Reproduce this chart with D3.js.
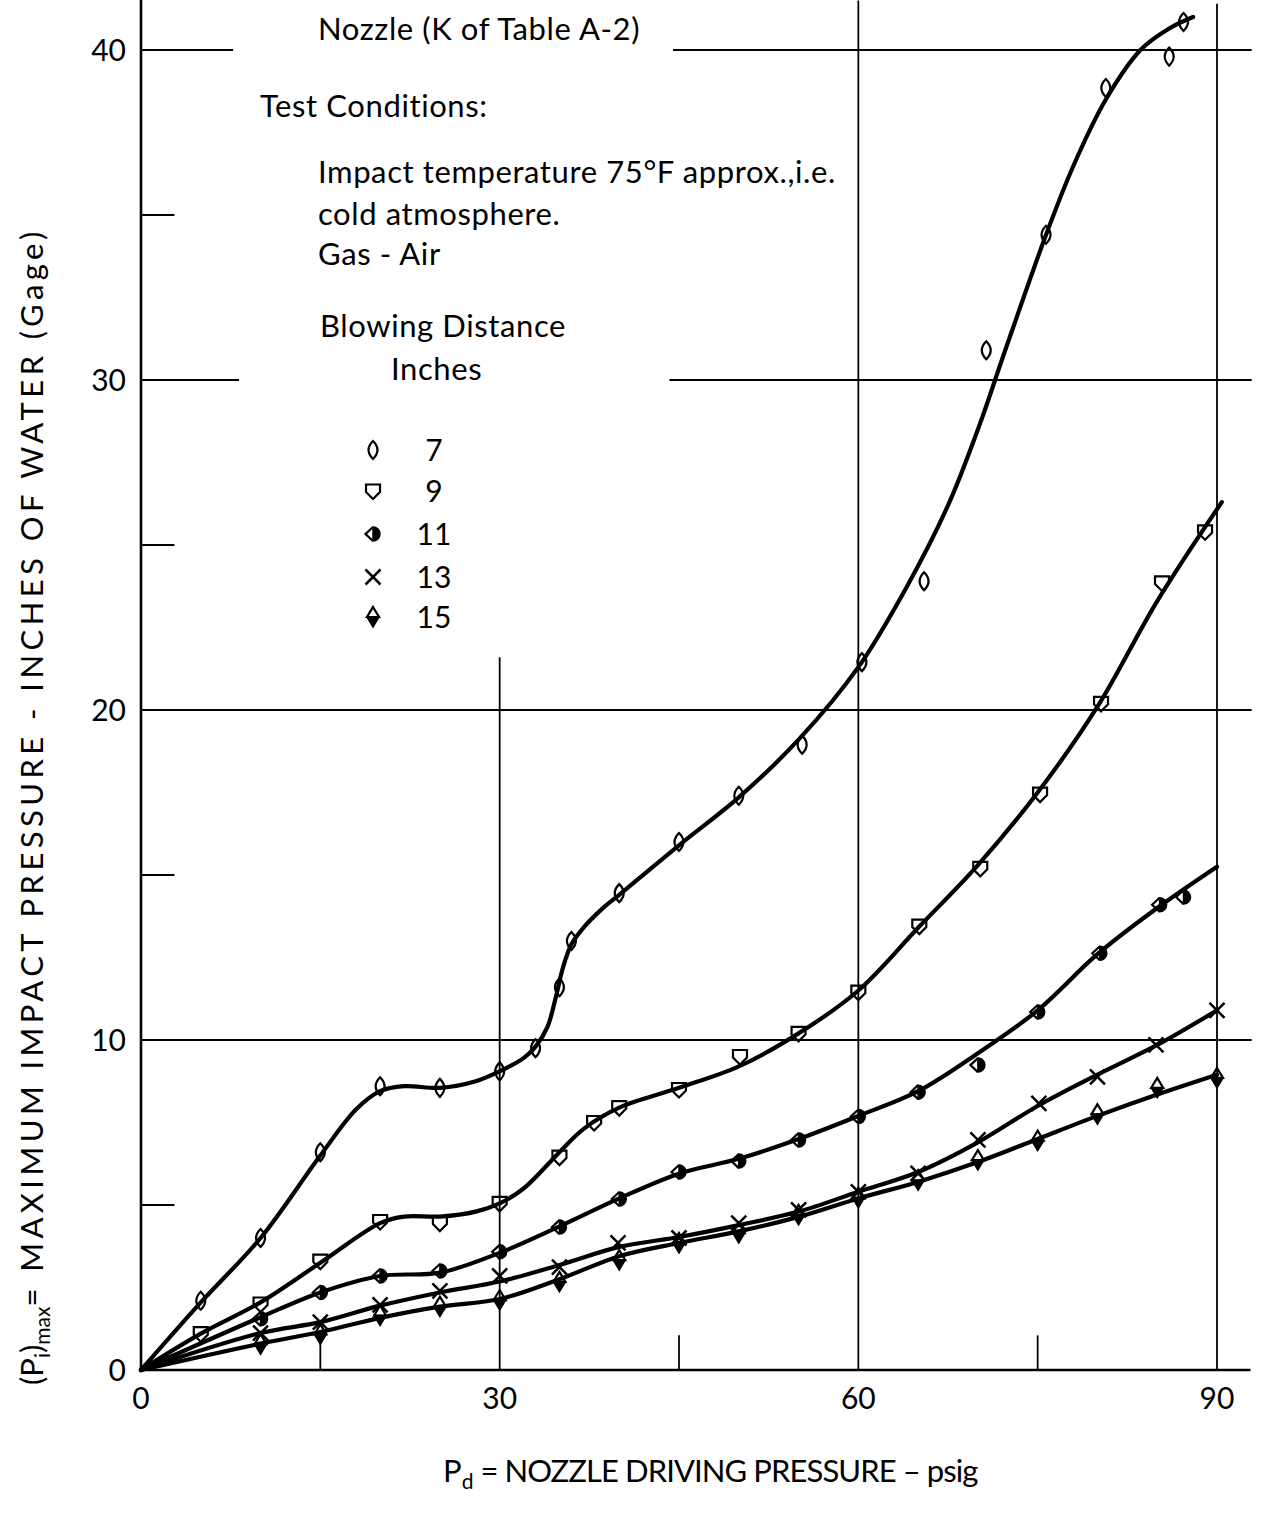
<!DOCTYPE html>
<html><head><meta charset="utf-8">
<script src="https://cdn.jsdelivr.net/npm/d3@7"></script>
<style>html,body{margin:0;background:#fff}</style>
</head><body><svg id="chart" width="1261" height="1513"></svg>
<script>
// Axis ticks
const xTicks = [0, 30, 60, 90];
const yTicks = [0, 10, 20, 30, 40];

// Blowing distances (inches)
const distances = ["7", "9", "11", "13", "15"];

// Measured points [driving pressure psig, impact pressure in. water]
const obs7  = [[5,2.1],[10,4.0],[15,6.6],[20,8.6],[25,8.55],[30,9.05],[33,9.75],[35,11.6],[36,13.0],[40,14.45],[45,16.0],[50,17.4],[55.3,18.95],[60.3,21.45],[65.5,23.9],[70.7,30.9],[75.7,34.4],[80.7,38.85],[86,39.8],[87.2,40.85]];
const obs9  = [[5,1.1],[10,2.0],[15,3.3],[20,4.5],[25,4.45],[30,5.05],[35,6.45],[37.9,7.5],[40,7.95],[45,8.5],[50.1,9.5],[55,10.2],[60,11.45],[65.1,13.45],[70.2,15.2],[75.2,17.45],[80.3,20.2],[85.4,23.85],[89,25.4]];
const obs11 = [[10,1.55],[15,2.35],[20,2.85],[25,3.0],[30,3.58],[35,4.33],[40,5.18],[45,6.0],[50,6.33],[55,6.97],[60,7.68],[65,8.42],[70,9.24],[75,10.85],[80.2,12.63],[85.2,14.1],[87.2,14.33]];
const obs13 = [[10,1.12],[15,1.45],[20,1.97],[25,2.4],[30,2.85],[35,3.12],[39.9,3.85],[45,4.0],[50,4.45],[55,4.85],[60,5.4],[65,5.96],[70,6.97],[75.1,8.08],[80,8.88],[84.9,9.85],[90,10.9]];
const obs15 = [[10,0.78],[15,1.08],[20,1.65],[25,1.92],[30,2.12],[35,2.67],[40,3.33],[45,3.85],[50,4.15],[55,4.7],[60,5.22],[65,5.75],[70,6.36],[75,6.95],[80,7.75],[85,8.55],[90,8.85]];

// Faired curves through the data
const fit7  = [[0,0],[5,2.05],[10,4.0],[15,6.5],[18,7.9],[20,8.45],[22,8.6],[25,8.55],[28,8.75],[30,9.05],[32,9.45],[33,9.8],[34,10.4],[34.7,11.3],[35.3,12.2],[36,12.9],[37,13.4],[38.5,13.95],[40,14.4],[45,15.9],[50,17.35],[55,19.1],[60,21.3],[64,23.7],[67.5,26.2],[70.2,28.7],[72,30.6],[75.7,34.4],[78,36.5],[80.7,38.5],[83.6,40],[86,40.65],[88,41.0]];
const fit9  = [[0,0],[5,1.1],[10,2.05],[15,3.25],[20,4.45],[22,4.65],[25,4.65],[28,4.8],[30,5.05],[32,5.5],[35,6.6],[37,7.3],[40,7.95],[45,8.55],[50,9.2],[55,10.2],[60,11.5],[65,13.4],[70,15.3],[75,17.5],[80,20.1],[85,23.3],[90.4,26.3]];
const fit11 = [[0,0],[10,1.6],[15,2.35],[20,2.85],[25,2.95],[30,3.55],[35,4.35],[40,5.2],[45,5.95],[50,6.4],[55,7.0],[60,7.7],[65,8.45],[70,9.6],[75,10.9],[80,12.6],[85,14.0],[90,15.25]];
const fit13 = [[0,0],[10,1.12],[15,1.45],[20,1.95],[25,2.35],[30,2.68],[35,3.18],[40,3.73],[45,4.03],[50,4.39],[55,4.8],[60,5.4],[65,6.0],[70,6.9],[75,8.0],[80,8.95],[85,9.85],[90,10.9]];
const fit15 = [[0,0],[10,0.8],[15,1.15],[20,1.58],[25,1.92],[30,2.15],[35,2.75],[40,3.45],[45,3.85],[50,4.2],[55,4.64],[60,5.2],[65,5.7],[70,6.3],[75,7.0],[80,7.7],[85,8.35],[90,8.95]];

const FONT = "Lato, 'Noto Sans', sans-serif";
const svg = d3.select("#chart");
const x = d3.scaleLinear().domain([0, 90]).range([141, 1217]);
const y = d3.scaleLinear().domain([0, 40]).range([1370, 50]);

const grid = svg.append("g").attr("stroke", "#000").attr("fill", "none");
function hseg(v, a, b, w) {
  grid.append("line").attr("x1", x(a)).attr("x2", x(b)).attr("y1", y(v)).attr("y2", y(v)).attr("stroke-width", w);
}
function vseg(v, a, b, w) {
  grid.append("line").attr("x1", x(v)).attr("x2", x(v)).attr("y1", y(a)).attr("y2", y(b)).attr("stroke-width", w);
}
// horizontal rules
hseg(10, 0, 92.9, 1.8);
hseg(20, 0, 92.9, 1.8);
hseg(30, 0, 8.2, 1.8); hseg(30, 44.2, 92.9, 1.8);
hseg(40, 0, 7.7, 1.8); hseg(40, 44.5, 92.9, 1.8);
[5, 15, 25, 35].forEach(v => hseg(v, 0, 2.8, 1.8));
// vertical rules
vseg(30, 0, 21.6, 1.8);
vseg(60, 0, 41.5, 1.8);
vseg(90, 0, 41.4, 1.8);
[15, 45, 75].forEach(v => vseg(v, 0, 1.05, 1.8));
// axes
vseg(0, 0, 41.65, 2.6);
hseg(0, 0, 92.8, 2.6);

// tick labels
svg.append("g").selectAll("text").data(xTicks).join("text")
  .attr("x", d => x(d)).attr("y", 1409).attr("text-anchor", "middle")
  .attr("font-family", FONT).attr("font-size", 30).text(d => d);
svg.append("g").selectAll("text").data(yTicks).join("text")
  .attr("x", 126).attr("y", d => y(d) + 11).attr("text-anchor", "end")
  .attr("font-family", FONT).attr("font-size", 30).text(d => d);

// marker shapes
const shapes = {
  "7":  g => g.append("path").attr("d", "M0,-9 Q9,0 0,9 Q-9,0 0,-9 Z").attr("fill", "none").attr("stroke", "#000").attr("stroke-width", 2.2),
  "9":  g => g.append("path").attr("d", "M-7,-6.5 H7 V1 L0,8 L-7,1 Z").attr("fill", "none").attr("stroke", "#000").attr("stroke-width", 2.2),
  "11": g => {
    g.append("path").attr("d", "M0,-7 L-7.5,0 L0,7").attr("fill", "none").attr("stroke", "#000").attr("stroke-width", 2.2);
    g.append("path").attr("d", "M0,-7 A7,7 0 0 1 0,7 Z").attr("fill", "#000").attr("stroke", "#000").attr("stroke-width", 1.5);
  },
  "13": g => g.append("path").attr("d", "M-7.5,-7.5 L7.5,7.5 M7.5,-7.5 L-7.5,7.5").attr("fill", "none").attr("stroke", "#000").attr("stroke-width", 2.5),
  "15": g => {
    g.append("path").attr("d", "M0,-10 L6,0 L-6,0 Z").attr("fill", "none").attr("stroke", "#000").attr("stroke-width", 2.2);
    g.append("path").attr("d", "M-6,0 L6,0 L0,10 Z").attr("fill", "#000").attr("stroke", "#000").attr("stroke-width", 1.5);
  }
};

// curves
const line = d3.line().x(d => x(d[0])).y(d => y(d[1])).curve(d3.curveCatmullRom.alpha(0.5));
const fits = [fit7, fit9, fit11, fit13, fit15];
const obs = [obs7, obs9, obs11, obs13, obs15];
svg.append("g").selectAll("path").data(fits).join("path")
  .attr("d", line).attr("fill", "none").attr("stroke", "#000")
  .attr("stroke-width", 4.2).attr("stroke-linejoin", "round").attr("stroke-linecap", "round");

// data points
distances.forEach((dist, i) => {
  svg.append("g").selectAll("g").data(obs[i]).join("g")
    .attr("transform", d => `translate(${x(d[0])},${y(d[1])})`)
    .each(function () { shapes[dist](d3.select(this)); });
});

// annotations
const notes = [
  ["Nozzle (K of Table A-2)", 318, 40],
  ["Test Conditions:", 260, 117],
  ["Impact temperature 75°F approx.,i.e.", 318, 183],
  ["cold atmosphere.", 318, 225],
  ["Gas - Air", 318, 265],
  ["Blowing Distance", 320, 337],
  ["Inches", 391, 380]
];
svg.append("g").selectAll("text").data(notes).join("text")
  .attr("x", d => d[1]).attr("y", d => d[2])
  .attr("font-family", FONT).attr("font-size", 31).attr("letter-spacing", 0.6).text(d => d[0]);

// legend
const leg = svg.append("g").selectAll("g").data(distances).join("g")
  .attr("transform", (d, i) => `translate(0,${[450, 491, 534, 577, 617][i]})`);
leg.each(function (d) {
  const g = d3.select(this);
  shapes[d](g.append("g").attr("transform", "translate(373,0)"));
  g.append("text").attr("x", 434).attr("y", 11).attr("text-anchor", "middle")
    .attr("font-family", FONT).attr("font-size", 30).text(d);
});

// axis titles
const xt = svg.append("text").attr("x", 443).attr("y", 1482).attr("text-anchor", "start")
  .attr("font-family", FONT).attr("font-size", 31);
xt.append("tspan").text("P");
xt.append("tspan").attr("font-size", 21).attr("dy", 7).text("d");
xt.append("tspan").attr("dy", -7).attr("textLength", 505).attr("lengthAdjust", "spacing")
  .text(" = NOZZLE DRIVING PRESSURE – psig");

const yt = svg.append("text").attr("transform", "translate(43,1385) rotate(-90)")
  .attr("text-anchor", "start").attr("font-family", FONT).attr("font-size", 31);
yt.append("tspan").text("(P");
yt.append("tspan").attr("font-size", 21).attr("dy", 7).text("i");
yt.append("tspan").attr("dy", -7).text(")");
yt.append("tspan").attr("font-size", 21).attr("dy", 7).text("max");
yt.append("tspan").attr("dy", -7).attr("textLength", 1075).attr("lengthAdjust", "spacing")
  .text("= MAXIMUM IMPACT PRESSURE - INCHES OF WATER (Gage)");
</script></body></html>
